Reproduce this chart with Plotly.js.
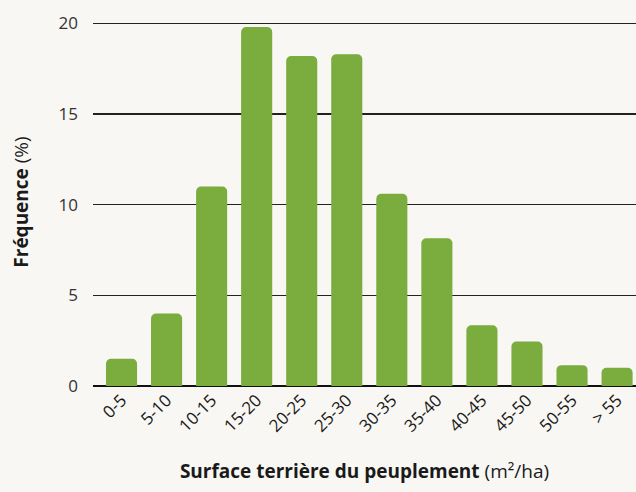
<!DOCTYPE html>
<html><head><meta charset="utf-8">
<script src="https://cdn.plot.ly/plotly-3.0.1.min.js"></script>
<style>html,body{margin:0;padding:0;background:#f8f7f3;}</style>
</head><body>
<div id="chart" style="width:636px;height:492px;"></div>
<script>
const categories = ["0-5","5-10","10-15","15-20","20-25","25-30","30-35","35-40","40-45","45-50","50-55","> 55"];
const frequences = [1.5, 4.0, 11.0, 19.8, 18.2, 18.3, 10.6, 8.15, 3.35, 2.45, 1.15, 1.0];
const yTicks = [0, 5, 10, 15, 20];

const trace = {
  type: 'bar',
  x: categories.map((c, i) => i),
  y: frequences,
  width: 0.69,
  marker: {color: '#7aac3e', cornerradius: 5, line: {width: 0}},
  hoverinfo: 'skip'
};

const layout = {
  width: 636, height: 492,
  paper_bgcolor: '#f8f7f3', plot_bgcolor: '#f8f7f3',
  margin: {l: 93, r: 0, t: 17.6, b: 106},
  showlegend: false,
  font: {family: 'Open Sans, sans-serif', color: '#222'},
  xaxis: {
    range: [-0.633, 11.42],
    tickmode: 'array',
    tickvals: categories.map((c, i) => i),
    ticktext: categories,
    tickangle: -45,
    tickfont: {size: 17, color: '#1a1a1a', family: 'Open Sans'},
    showgrid: false, zeroline: false, showline: false, ticks: '',
    title: {text: '<b>Surface terrière du peuplement</b> (m²/ha)', font: {size: 19, family: 'Open Sans', color: '#1a1a1a'}, standoff: 29}
  },
  yaxis: {
    range: [0, 20.3],
    tickmode: 'array',
    tickvals: yTicks,
    ticktext: yTicks.map(String),
    tickfont: {size: 17, color: '#333', family: 'Open Sans'},
    showgrid: true, gridcolor: '#222', gridwidth: 1.3,
    zeroline: true, zerolinecolor: '#111', zerolinewidth: 1.3,
    showline: false, ticks: '',
    ticklabelstandoff: 14,
    title: {text: '<b>Fréquence</b> (%)', font: {size: 19, family: 'Open Sans', color: '#1a1a1a'}, standoff: 24}
  }
};

Plotly.newPlot('chart', [trace], layout, {displayModeBar: false, staticPlot: true});
</script>
</body></html>
